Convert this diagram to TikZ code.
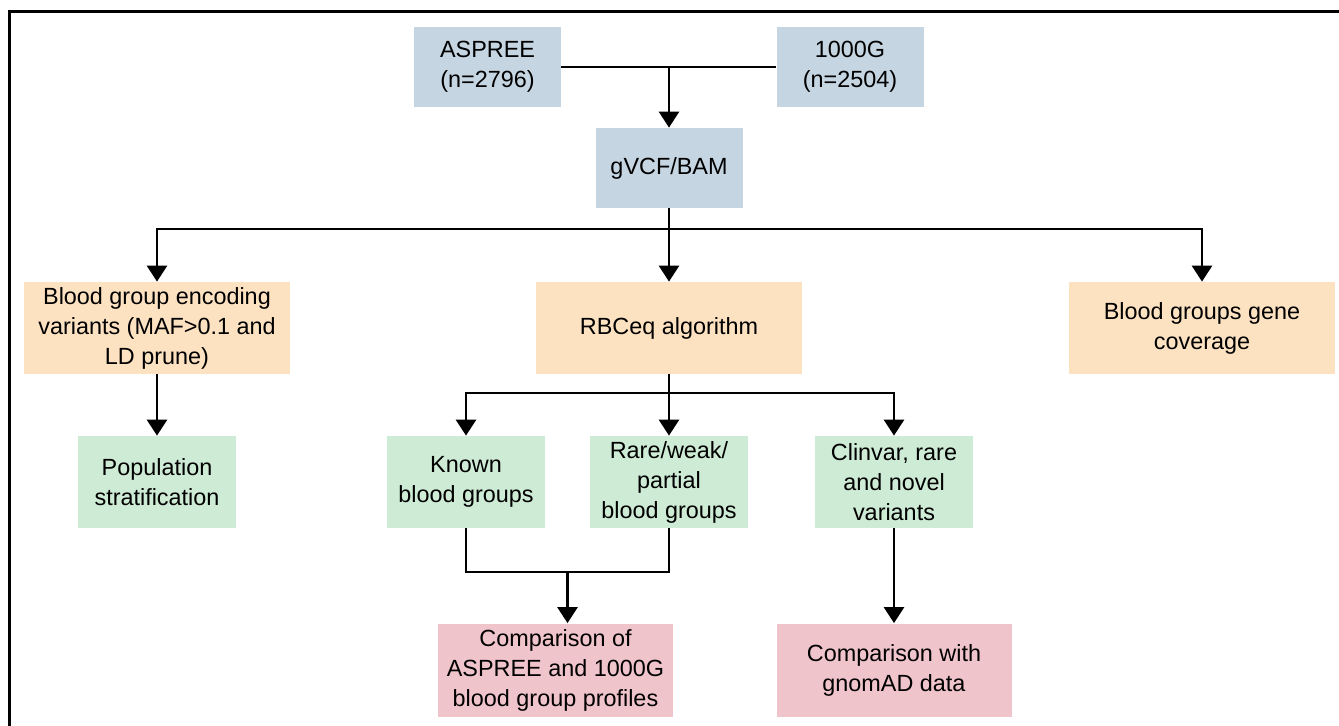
\documentclass[tikz,border=0pt]{standalone}
\usepackage{fontspec}
\setmainfont{Liberation Sans}
\usetikzlibrary{arrows.meta,positioning,calc}
\definecolor{srcbg}{HTML}{C5D5E2}
\definecolor{anabg}{HTML}{FDE2C2}
\definecolor{grpbg}{HTML}{CEEBD5}
\definecolor{cmpbg}{HTML}{F0C4CB}

\begin{document}
\begin{tikzpicture}[x=0.5pt,y=-0.5pt,
  font=\fontsize{11.7}{15}\selectfont,
  box/.style={align=center,inner sep=0pt,text=black},
  srcbox/.style={box,fill=srcbg,minimum width=73.5pt,minimum height=40pt},
  anabox/.style={box,fill=anabg,minimum width=133pt,minimum height=46pt},
  grpbox/.style={box,fill=grpbg,minimum width=79pt,minimum height=46pt},
  cmpbox/.style={box,fill=cmpbg,minimum width=117.5pt,minimum height=46.5pt},
  ln/.style={line width=1.4pt,draw=black},
  arr/.style={ln,-{Triangle[width=10pt,length=8pt]}}]

\useasboundingbox (0,0) rectangle (1339,725);
\begin{scope}
  \clip (0,0) rectangle (1339,725);
  \draw[line width=1.5pt] (9.5,11.5) rectangle (1360,760);
\end{scope}

% inputs
\node[srcbox] (aspree) at (487.5,67) {ASPREE\\(n=2796)};
\node[srcbox] (kg)     at (850,67)   {1000G\\(n=2504)};
\node[srcbox] (gvcf)   at (669,168)  {gVCF/BAM};

% analyses
\node[anabox] (bge)   at (157,328)  {Blood group encoding\\variants (MAF>0.1 and\\LD prune)};
\node[anabox] (rbceq) at (669,328)  {RBCeq algorithm};
\node[anabox] (cov)   at (1202,328) {Blood groups gene\\coverage};

\node[grpbox] (pop)   at (157,482) {Population\\stratification};
\node[grpbox] (known) at (466,482) {Known\\blood groups};
\node[grpbox] (rare)  at (669,482) {Rare/weak/\\partial\\blood groups};
\node[grpbox] (clin)  at (894,482) {Clinvar, rare\\and novel\\variants};

% comparisons
\node[cmpbox] (cmpkg) at (555.5,670) {Comparison of\\ASPREE and 1000G\\blood group profiles};
\node[cmpbox] (cmpgn) at (894,670)   {Comparison with\\gnomAD data};

\coordinate (split) at (669,229);
\coordinate (fork)  at (669,393);
\coordinate (join)  at (567.5,572);

\draw[ln] (aspree.east) -- (kg.west);
\draw[arr] (gvcf.north |- aspree.east) -- (gvcf.north);
\draw[arr] (gvcf.south) -- (rbceq.north);
\draw[arr] (split) -| (bge.north);
\draw[arr] (split) -| (cov.north);
\draw[arr] (bge.south) -- (pop.north);

\draw[arr] (fork) -| (known.north);
\draw[arr] (fork) -| (clin.north);
\draw[arr] (rbceq.south) -- (rare.north);

\draw[ln] (known.south) |- (join) -| (rare.south);
\draw[arr] (join) -- (join |- cmpkg.north);
\draw[arr] (clin.south) -- (cmpgn.north);
\end{tikzpicture}
\end{document}
